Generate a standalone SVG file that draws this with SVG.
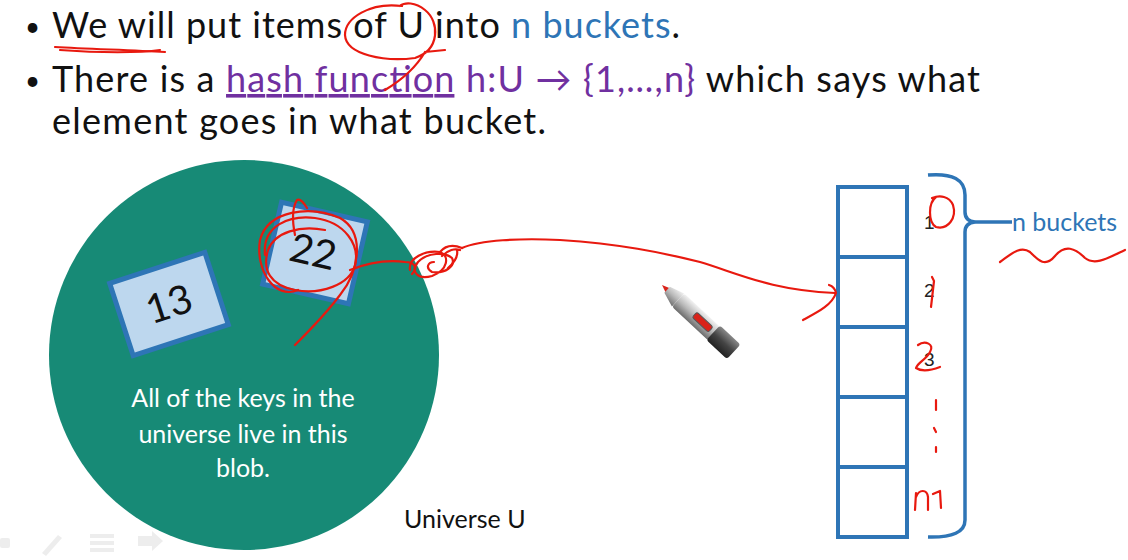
<svg xmlns="http://www.w3.org/2000/svg" width="1128" height="560" viewBox="0 0 1128 560">
<defs>
<style>
.t{font-family:Lato,"Open Sans","Liberation Sans",sans-serif;}
.title{font-size:36px;fill:#111;}
.bul{font-size:26px;fill:#111;}
.blue{fill:#2E75B6;}
.purple{fill:#7030A0;}
.red{fill:none;stroke:#E8190F;stroke-width:2.2;stroke-linecap:round;stroke-linejoin:round;}
.cell{fill:#fff;stroke:#2E75B6;stroke-width:4;}
.key{fill:#BDD7EE;stroke:#2E75B6;stroke-width:5;}
.idx{font-family:"Liberation Sans",sans-serif;font-size:19px;fill:#222;}
</style>
<linearGradient id="penBody" x1="0" y1="0" x2="0" y2="1">
<stop offset="0" stop-color="#f2f2f2"/><stop offset="0.5" stop-color="#b9b9b9"/><stop offset="1" stop-color="#6d6d6d"/>
</linearGradient>
<linearGradient id="penCap" x1="0" y1="0" x2="0" y2="1">
<stop offset="0" stop-color="#888"/><stop offset="0.5" stop-color="#444"/><stop offset="1" stop-color="#222"/>
</linearGradient>
</defs>
<rect width="1128" height="560" fill="#fff"/>

<g id="bullets" class="t">
<text class="bul" x="25" y="36">•</text>
<text class="title" x="52" y="38" textLength="628">We will put items of U into <tspan class="blue">n buckets</tspan>.</text>
<text class="bul" x="25" y="90">•</text>
<text class="title" x="52" y="92" textLength="928">There is a <tspan class="purple" text-decoration="underline">hash function</tspan><tspan class="purple"> h:U → {1,…,n}</tspan> which says what</text>
<text class="title" x="52" y="134" textLength="494">element goes in what bucket.</text>
</g>

<g id="universe">
<circle cx="244" cy="355" r="195" fill="#178A76"/>
<text class="t" x="243" y="407" font-size="25" fill="#fff" text-anchor="middle">All of the keys in the</text>
<text class="t" x="243" y="443" font-size="25" fill="#fff" text-anchor="middle">universe live in this</text>
<text class="t" x="243" y="477" font-size="25" fill="#fff" text-anchor="middle">blob.</text>
<text class="t" x="404" y="528" font-size="25" fill="#111">Universe U</text>
</g>

<g id="key13" transform="translate(169,304) rotate(-18)">
<rect class="key" x="-50" y="-38" width="100" height="76"/>
<text class="t" x="0" y="14" font-size="40" fill="#111" text-anchor="middle">13</text>
</g>
<g id="key22" transform="translate(315,253) rotate(13)">
<rect class="key" x="-44" y="-42" width="88" height="84"/>
<text class="t" x="-2" y="13" font-size="40" fill="#111" text-anchor="middle">22</text>
</g>

<g id="buckets">
<rect class="cell" x="838" y="187" width="69" height="70"/>
<rect class="cell" x="838" y="257" width="69" height="70"/>
<rect class="cell" x="838" y="327" width="69" height="70"/>
<rect class="cell" x="838" y="397" width="69" height="70"/>
<rect class="cell" x="838" y="467" width="69" height="70"/>
<text class="idx" x="924" y="229">1</text>
<text class="idx" x="924" y="297">2</text>
<text class="idx" x="924" y="366">3</text>
<path d="M928 175 Q965 172 965 195 L965 212 Q965 221 975 222 Q965 223 965 232 L965 520 Q965 538 928 537" fill="none" stroke="#2E75B6" stroke-width="3.5"/>
<line x1="975" y1="222" x2="1012" y2="222" stroke="#2E75B6" stroke-width="3.5"/>
<text class="t blue" x="1012" y="231" font-size="25">n buckets</text>
</g>

<g id="connectors">
<path class="red" d="M462 248 C480 240 520 238 560 240 C620 244 660 252 700 262 C740 274 770 290 835 293"/>
<path class="red" d="M803 320 C818 312 832 305 836 293 C835 288 832 286 829 285"/>
</g>

<g id="annotations">
<path class="red" d="M55 47 C90 49 130 50 165 52"/>
<path class="red" d="M60 50 C100 53 140 53 160 50"/>
<path class="red" d="M402 6 C370 2 345 18 345 35 C346 55 385 62 415 58 C440 50 440 22 425 10 C415 2 405 2 400 6 M425 52 L445 50 M425 52 C418 64 405 78 385 90"/>
<path class="red" d="M265 255 C262 225 290 215 315 218 C345 222 360 245 355 265 C350 285 320 295 295 290 C270 285 262 270 268 250 C275 232 300 225 325 230"/>
<path class="red" d="M298 290 C275 300 255 270 260 240 C268 210 310 205 340 218 C365 232 360 270 340 295 C325 315 305 335 295 345"/>
<path class="red" d="M295 235 C292 220 292 208 297 200 C300 198 304 203 307 208"/>
<path class="red" d="M350 270 C370 262 390 260 405 262 C415 262 418 268 412 274"/>
<path class="red" d="M410 270 C408 258 425 250 440 252 C450 256 448 270 432 276 C418 280 410 272 418 262 C428 252 445 252 452 258 C456 266 445 274 432 272 C425 268 428 262 434 262"/>
<path class="red" d="M440 252 C445 246 452 244 462 248 M442 256 C448 250 455 248 460 250 M448 268 C455 262 458 255 457 250"/>
<path class="red" d="M936 197 C928 203 928 222 936 227 C948 230 957 218 953 205 C949 196 940 195 932 198"/>
<path class="red" d="M932 277 L934 281 L931 307"/>
<path class="red" d="M918 345 C925 340 935 344 930 352 C926 360 918 362 916 368 C922 372 932 370 940 367"/>
<path class="red" d="M936 400 L936 410 M934 428 L936 432 M936 447 L936 452"/>
<path class="red" d="M915 510 L916 493 M916 497 C919 489 927 489 928 497 L928 510 M933 494 L940 491 L941 508"/>
<path class="red" d="M1000 262 C1010 255 1020 245 1030 252 C1038 260 1045 268 1055 256 C1065 244 1075 248 1085 258 C1095 266 1108 258 1125 250"/>
</g>

<g id="pen" transform="translate(662,285) rotate(43)">
<path d="M0 0 L8 -3 L8 3 Z" fill="#d9231a"/>
<path d="M7 -4 L22 -9 L22 9 L7 4 Z" fill="url(#penBody)"/>
<rect x="22" y="-9" width="50" height="18" rx="3" fill="url(#penBody)"/>
<rect x="44" y="-4" width="22" height="7" rx="2" fill="#d9231a" stroke="#555" stroke-width="1"/>
<rect x="70" y="-10" width="28" height="20" rx="3" fill="url(#penCap)"/>
</g>

<g id="toolbar" fill="#ececec" opacity="0.9">
<rect x="0" y="538" width="10" height="10" rx="2"/>
<path d="M42 553 L58 535 L62 538 L46 556 Z"/>
<rect x="90" y="534" width="24" height="4"/><rect x="90" y="541" width="24" height="4"/><rect x="90" y="548" width="24" height="4"/>
<path d="M138 536 L152 536 L152 531 L163 541 L152 551 L152 546 L138 546 Z"/>
</g>
</svg>
